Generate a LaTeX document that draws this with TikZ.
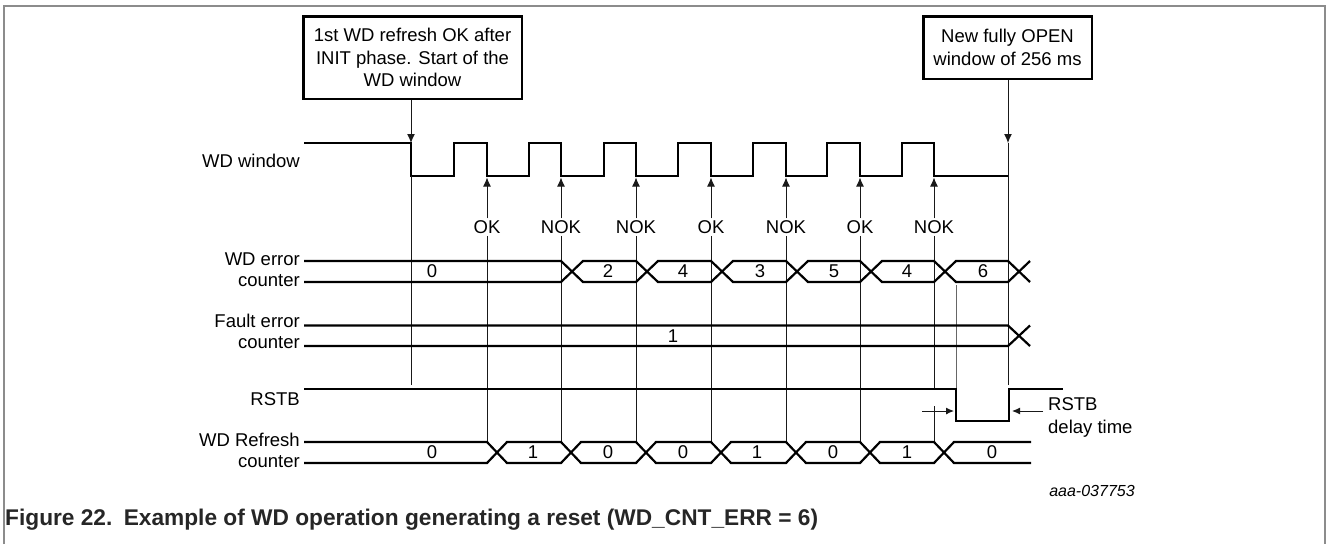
\documentclass[tikz,border=0pt]{standalone}
\usepackage{fontspec}
\setmainfont{Liberation Sans}
\usetikzlibrary{arrows.meta}
\begin{document}
\begin{tikzpicture}[x=1pt,y=-1pt,
  wave/.style={line width=2.2pt, line join=miter, line cap=butt, black},
  thinline/.style={line width=1pt, black!90},
  arr/.style={line width=1pt, black!90, -{Latex[length=9pt,width=8pt]}},
  smallarr/.style={line width=1pt, black!90, -{Latex[length=8pt,width=7pt]}},
  lbl/.style={inner sep=0pt, font=\fontsize{18.5}{22.5}\selectfont},
  callout/.style={draw, line width=2.5pt, align=center, inner sep=0pt, font=\fontsize{18.5}{22.5}\selectfont},
]
\useasboundingbox (0,0) rectangle (1328,544);
% frame
\draw[line width=1.3pt, black!45] (4,544) -- (4,6) -- (1325,6) -- (1325,544);

% callouts
\node[callout, minimum width=218.5pt, minimum height=82.5pt] (c1) at (412.5,57.5)
  {1st WD refresh OK after\\INIT phase. Start of the\\WD window};
\node[callout, minimum width=168.5pt, minimum height=62.5pt] (c2) at (1007.5,47.5)
  {New fully OPEN\\window of 256 ms};
\coordinate (w0) at (411,143);
\coordinate (w8) at (1008,143);
\draw[arr] (c1.south -| w0) -- (w0);
\draw[arr] (c2.south -| w8) -- (w8);

% signal labels
\node[lbl, anchor=east] (lw) at (300,161) {WD window};
\node[lbl, anchor=east] (le1) at (300,259) {WD error};
\node[lbl, anchor=east] (le2) at (300,281) {counter};
\node[lbl, anchor=east] (lf1) at (300,321) {Fault error};
\node[lbl, anchor=east] (lf2) at (300,343) {counter};
\node[lbl, anchor=east] (lr) at (300,399) {RSTB};
\node[lbl, anchor=east] (lc1) at (300,440) {WD Refresh};
\node[lbl, anchor=east] (lc2) at (300,462) {counter};

% WD window waveform
\draw[wave] (304,143) -- (411,143) -- (411,176) -- (454,176) -- (454,143)
  -- (487,143) -- (487,176) -- (529,176) -- (529,143)
  -- (561,143) -- (561,176) -- (604,176) -- (604,143)
  -- (636,143) -- (636,176) -- (678,176) -- (678,143)
  -- (711,143) -- (711,176) -- (753,176) -- (753,143)
  -- (786,143) -- (786,176) -- (827,176) -- (827,143)
  -- (860,143) -- (860,176) -- (902,176) -- (902,143)
  -- (934,143) -- (934,176) -- (1009,176);

% thin verticals
\draw[thinline] (411,176) -- (411,385);
\draw[thinline] (1008,143) -- (1008,385);
\draw[line width=1pt, black!60] (956,285) -- (956,389);

% OK / NOK markers
\foreach \x/\t [count=\i] in {487/OK,561/NOK,636/NOK,711/OK,786/NOK,860/OK} {
  \node[lbl, inner ysep=2pt] (k\i) at (\x,227) {\t};
  \coordinate (ka\i) at (\x,177.5);
  \coordinate (kb\i) at (\x,441);
  \draw[arr] (k\i) -- (ka\i);
  \draw[thinline] (k\i) -- (kb\i);
}
\node[lbl, inner ysep=2pt] (k7) at (934,227) {NOK};
\coordinate (ka7) at (934,177.5);
\coordinate (kb7) at (934,389);
\coordinate (kc7) at (934,406);
\coordinate (kd7) at (934,441);
\draw[arr] (k7) -- (ka7);
\draw[thinline] (k7) -- (kb7);
\draw[thinline] (kc7) -- (kd7);

% WD error counter
\draw[wave] (304,261) -- (561,261) -- (583,282) -- (636,282) -- (658,261) -- (711,261)
  -- (733,282) -- (786,282) -- (808,261) -- (860,261) -- (882,282) -- (934,282)
  -- (956,261) -- (1008,261) -- (1030,282);
\draw[wave] (304,282) -- (561,282) -- (583,261) -- (636,261) -- (658,282) -- (711,282)
  -- (733,261) -- (786,261) -- (808,282) -- (860,282) -- (882,261) -- (934,261)
  -- (956,282) -- (1008,282) -- (1030,261);
\foreach \x/\v [count=\i] in {432/0,608/2,683/4,760/3,834/5,907/4,983/6}
  \node[lbl] (ev\i) at (\x,271.5) {\v};

% Fault error counter
\draw[wave] (304,325.5) -- (1008,325.5) -- (1030,346);
\draw[wave] (304,346) -- (1008,346) -- (1030,325.5);
\node[lbl] (fv) at (673,336) {1};

% RSTB
\draw[wave] (304,389) -- (956,389) -- (956,421) -- (1009,421) -- (1009,389) -- (1063,389);
\coordinate (d1) at (922,411);
\coordinate (d2) at (954,411);
\coordinate (d3) at (1043,411);
\coordinate (d4) at (1012,411);
\draw[smallarr] (d1) -- (d2);
\draw[smallarr] (d3) -- (d4);
\node[lbl, anchor=north west, align=left] (rd) at (1048,397.5) {RSTB\\delay time};

% WD Refresh counter
\draw[wave] (304,442) -- (487,442) -- (507,463) -- (561,463) -- (581,442) -- (636,442)
  -- (656,463) -- (711,463) -- (731,442) -- (786,442) -- (806,463) -- (860,463)
  -- (880,442) -- (934,442) -- (954,463) -- (1031,463);
\draw[wave] (304,463) -- (487,463) -- (507,442) -- (561,442) -- (581,463) -- (636,463)
  -- (656,442) -- (711,442) -- (731,463) -- (786,463) -- (806,442) -- (860,442)
  -- (880,463) -- (934,463) -- (954,442) -- (1031,442);
\foreach \x/\v [count=\i] in {432/0,533/1,608/0,683/0,757/1,833/0,907/1,992/0}
  \node[lbl] (rv\i) at (\x,452.5) {\v};

% id and caption
\node[inner sep=0pt, font=\itshape\fontsize{16}{19}\selectfont] (id) at (1092,491) {aaa-037753};
\node[anchor=base west, inner sep=0pt, text=black!85, font=\bfseries\fontsize{22.7}{26}\selectfont] (cap) at (5,525)
  {Figure 22.\hspace{0.5em}Example of WD operation generating a reset (WD\_CNT\_ERR = 6)};
\end{tikzpicture}
\end{document}
